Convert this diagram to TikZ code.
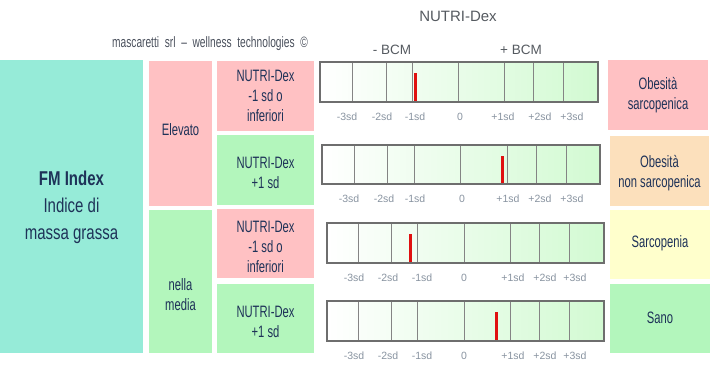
\documentclass[tikz,border=0pt]{standalone}
\usepackage{fontspec}
\setmainfont{Liberation Sans}
\newfontfamily\agency[FakeStretch=0.68]{Liberation Sans}
\newfontfamily\agencyw[FakeStretch=0.75]{Liberation Sans}
\definecolor{tealc}{HTML}{96EBD8}
\definecolor{pinkc}{HTML}{FFC1C3}
\definecolor{greenc}{HTML}{B3F6BC}
\definecolor{peachc}{HTML}{FCE0BC}
\definecolor{yellc}{HTML}{FFFFCC}
\definecolor{navyc}{HTML}{1E3258}
\definecolor{bargreen}{HTML}{D2FAD2}
\definecolor{bargray}{HTML}{6E6E6E}
\definecolor{tickc}{HTML}{8893A0}
\definecolor{headc}{HTML}{555A60}
\definecolor{creditc}{HTML}{4A505C}
\definecolor{redc}{HTML}{E01010}
\tikzset{
  box/.style={draw=none, inner sep=0pt, outer sep=0pt},
  boxtext/.style={inner sep=0pt, align=center, text=navyc, font=\agency\fontsize{16.5}{20}\selectfont},
  tick/.style={inner sep=0pt, text=tickc, font=\fontsize{10.5}{12}\selectfont},
  divline/.style={draw=bargray!85, line width=1pt},
  barframe/.style={draw=bargray, line width=1.3pt},
  redmark/.style={draw=redc, line width=3pt},
}
\newcommand\ticktext[1]{\ifcase#1\or -3sd\or -2sd\or -1sd\or 0\or +1sd\or +2sd\or +3sd\fi}
% #1 name, #2 x1, #3 y1, #4 x2, #5 y2, #6 dividers, #7 label xs, #8 red x
\newcommand\ndbar[8]{%
  \path[left color=white, right color=bargreen] (#2,#3) rectangle (#4,#5);
  \foreach \d in {#6} {\draw[divline] (\d,#3) -- (\d,#5);}
  \draw[redmark] (#8,#3+11) -- (#8,#5);
  \draw[barframe] (#2,#3) rectangle (#4,#5);
  \foreach \x [count=\i] in {#7} {\node[tick] (#1-\i) at (\x,#5+15) {\ticktext{\i}};}
}
\begin{document}
\begin{tikzpicture}[x=1pt,y=-1pt]
\useasboundingbox (0,0) rectangle (717,369);
% header
\node[inner sep=0pt, text=headc, font=\fontsize{15}{18}\selectfont] (title) at (458,16) {NUTRI-Dex};
\node[inner sep=0pt, text=headc, font=\fontsize{13.5}{16}\selectfont] (minus) at (392,50) {- BCM};
\node[inner sep=0pt, text=headc, font=\fontsize{13.5}{16}\selectfont] (plus) at (521,50) {+ BCM};
\node[inner sep=0pt, text=creditc, font=\agency\fontsize{15}{18}\selectfont] (credit) at (210,44) {mascaretti\ \ srl\ \ –\ \ wellness\ \ technologies\ \ ©};
% left column
\node[box, fill=tealc, minimum width=143pt, minimum height=293pt] (fm) at (71.5,206.5) {};
\node[inner sep=0pt, align=center, text=navyc, font=\agencyw\fontsize{20}{27}\selectfont] (fmtext) at (71.5,207) {\textbf{FM Index}\\Indice di\\massa grassa};
% second column
\node[box, fill=pinkc, minimum width=63pt, minimum height=145pt] (elev) at (180.5,133.5) {};
\node[boxtext] (elevt) at (180.5,130) {Elevato};
\node[box, fill=greenc, minimum width=63pt, minimum height=143pt] (media) at (180.5,281.5) {};
\node[boxtext] (mediat) at (180.5,295) {nella\\media};
% third column
\node[box, fill=pinkc, minimum width=97pt, minimum height=70pt] (n1) at (265.5,96) {};
\node[boxtext] (n1t) at (265.5,96) {NUTRI-Dex\\-1 sd o\\inferiori};
\node[box, fill=greenc, minimum width=97pt, minimum height=70pt] (n2) at (265.5,170) {};
\node[boxtext] (n2t) at (265.5,173) {NUTRI-Dex\\+1 sd};
\node[box, fill=pinkc, minimum width=97pt, minimum height=69pt] (n3) at (265.5,243.5) {};
\node[boxtext] (n3t) at (265.5,247) {NUTRI-Dex\\-1 sd o\\inferiori};
\node[box, fill=greenc, minimum width=97pt, minimum height=69pt] (n4) at (265.5,318.5) {};
\node[boxtext] (n4t) at (265.5,322) {NUTRI-Dex\\+1 sd};
% right column
\node[box, fill=pinkc, minimum width=100pt, minimum height=70pt] (o1) at (658,95) {};
\node[boxtext] (o1t) at (658,95) {Obesità\\sarcopenica};
\node[box, fill=peachc, minimum width=99pt, minimum height=70pt] (o2) at (659.5,171) {};
\node[boxtext] (o2t) at (659.5,173) {Obesità\\non sarcopenica};
\node[box, fill=yellc, minimum width=100pt, minimum height=69pt] (o3) at (660,244.5) {};
\node[boxtext] (o3t) at (660,243) {Sarcopenia};
\node[box, fill=greenc, minimum width=100pt, minimum height=69pt] (o4) at (660,318.5) {};
\node[boxtext] (o4t) at (660,318) {Sano};
% bars
\ndbar{b1}{320}{62}{598}{102}{352,386,412,458,504,533,563}{347,382,415,460,503,540,572}{415}
\ndbar{b2}{322}{145}{600}{184}{354,387,414,460,507,536,566}{349,384,415,462,508,540,572}{502}
\ndbar{b3}{327}{223}{604}{263}{358,391,417,464,510,539,569}{354,388,422,464,513,545,575}{410}
\ndbar{b4}{327}{301}{604}{341}{358,391,417,464,510,539,569}{354,388,422,464,513,545,575}{496}
\end{tikzpicture}
\end{document}
